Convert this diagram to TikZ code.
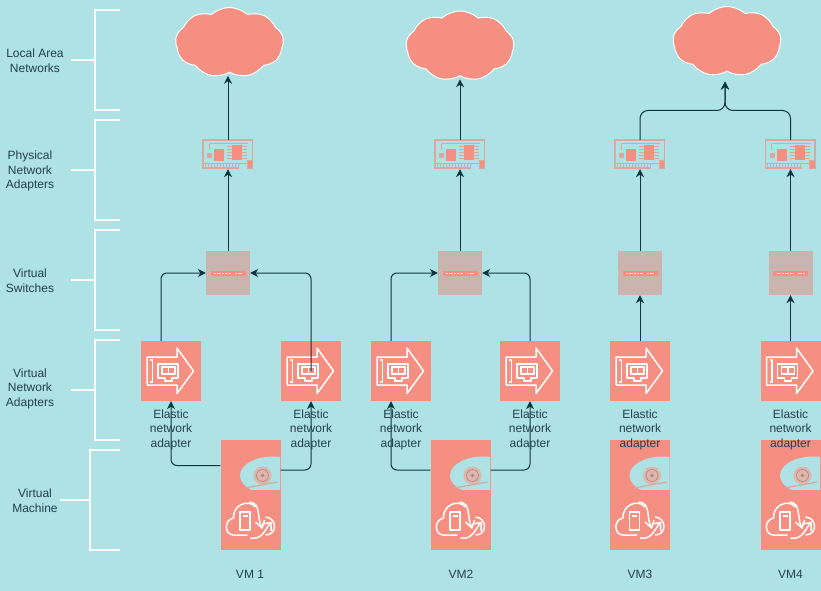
\documentclass[tikz,border=0pt]{standalone}
\usepackage{fontspec}
\setmainfont{Liberation Sans}
\usepackage{tikz}
\usetikzlibrary{arrows.meta,positioning,calc,shapes.symbols}
\definecolor{bgc}{HTML}{AEE2E4}
\definecolor{sal}{HTML}{F58F82}
\definecolor{mute}{HTML}{C9B4AF}
\definecolor{nicl}{HTML}{D8A99E}
\definecolor{ink}{HTML}{0F3540}
\definecolor{txt}{HTML}{23414A}
\tikzset{
  >={Stealth[length=8pt,width=8pt]},
  ebox/.style={fill=sal,minimum size=60pt,inner sep=0pt},
  dbox/.style={fill=sal,minimum width=60pt,minimum height=50pt,inner sep=0pt},
  swbox/.style={fill=mute,minimum size=44pt,inner sep=0pt},
  nicbox/.style={minimum width=50pt,minimum height=29pt,inner sep=0pt},
  net/.style={cloud,cloud puffs=9,cloud puff arc=85,aspect=1.55,fill=sal,draw=white,line width=1pt,inner sep=0pt,minimum width=108pt,minimum height=70pt},
  lab/.style={font=\fontsize{12}{14.6}\selectfont,text=txt,align=center,inner sep=0pt},
  arr/.style={->,draw=ink,line width=1pt,rounded corners=6pt},
  brk/.style={draw=white,line width=2pt},
  wline/.style={draw=white,line width=1.5pt,line join=round},
  pics/enaicon/.style={code={
    \draw[wline] (-24,14) -- (-24,-14) -- (6,-14) -- (6,-23) -- (22.5,0) -- (6,22.5) -- (6,14) -- (-24,14);
    \draw[wline] (-21,-11) -- (-18.5,-11) -- (-18.5,11) -- (-21,11);
    \draw[wline] (-13,-7) -- (7,-7) -- (7,7) -- (1,7) -- (1,10) -- (-6,10) -- (-6,7) -- (-13,7) -- cycle;
    \draw[wline,line width=1.2pt] (-9,-4) rectangle (4,3);
    \draw[wline,line width=1.2pt] (-2.5,-4) -- (-2.5,3);
  }},
  pics/diskicon/.style={code={
    \begin{scope}
      \clip (-30,-25) rectangle (29.5,28);
      \fill[bgc] (22.5,10.5) ellipse (33 and 19);
    \end{scope}
    \fill[nicl!85!white] (12,10.5) circle (9);
    \draw[nicl!80!black,line width=0.6pt] (12,10.5) circle (6);
    \fill[nicl!80!black] (12,10.5) circle (1.8);
    \draw[nicl,line width=1.2pt] (-6,23) -- (27,17);
  }},
  pics/vmicon/.style={code={
    \draw[wline] (-3,15) -- (-17,15) .. controls (-26,15) and (-27,0) .. (-17,-2)
      .. controls (-18,-14) and (-3,-22) .. (5,-13);
    \draw[wline] (15,-3) .. controls (27,-2) and (27,15) .. (15,15);
    \draw[wline] (-10.5,-8) rectangle (-0.5,10);
    \draw[wline,line width=1.1pt] (-8,-4) -- (-3,-4);
    \draw[wline] (-1,-18) .. controls (11,-17) and (6,-3) .. (11,7);
    \draw[wline] (5,2) -- (11.5,8) -- (14,0);
    \draw[wline] (0,18) .. controls (12,20) and (14,10) .. (20,3);
    \draw[wline] (12,4) -- (20.5,2.5) -- (20.5,11);
  }},
  pics/nicicon/.style={code={
    \draw[nicl,line width=1.4pt] (-25,-14.5) rectangle (24.5,9);
    \foreach \k in {0,...,11} \draw[nicl,line width=1pt] (-23+\k*3,9) -- (-23+\k*3,13.5);
    \draw[nicl,line width=1.2pt] (-25,9) -- (-25,13.5) -- (11,13.5);
    \fill[sal] (-14,-6) rectangle (-4,6);
    \fill[sal] (4,-9.5) rectangle (14,5);
    \foreach \k in {-8,-5,...,4} {\draw[nicl,line width=0.7pt] (-1,\k) -- (4,\k); \draw[nicl,line width=0.7pt] (14,\k) -- (19,\k);}
    \fill[nicl] (-21,-2) rectangle (-16,3);
    \fill[sal,draw=nicl] (19,6) rectangle (24.5,13.5);
    \draw[nicl,line width=0.7pt] (-19,-12) -- (-19,-5) (-18,-11.5) -- (20,-11.5);
  }},
  pics/swicon/.style={code={
    \fill[sal] (-17.5,-2.5) rectangle (17.5,2.5);
    \draw[mute!50!white,line width=0.8pt,dash pattern=on 2pt off 0.7pt] (-14,0) -- (3,0) (7,0) -- (14,0);
  }},
}
\begin{document}
\begin{tikzpicture}[x=1pt,y=-1pt]
\useasboundingbox (0,0) rectangle (821,591);
\fill[bgc] (0,0) rectangle (821,591);

% brackets on the left
\foreach \t/\xb/\xs in {10/95/71,120/95/71,230/95/71,340/95/71,450/90/60}
  \draw[brk] (120,\t) -- (\xb,\t) -- (\xb,\t+100) -- (120,\t+100) (\xs,\t+50) -- (\xb,\t+50);

% clouds
\node[net] (cloud1) at (229.5,42.5) {};
\node[net] (cloud2) at (460,46) {};
\node[net] (cloud3) at (727,41.5) {};

% physical adapters and switches
\foreach \n/\x in {1/228,2/460,3/640,4/790.5}{
  \node[nicbox] (nic\n) at (\x,154.5) {};
  \pic at (\x,154.5) {nicicon};
  \node[swbox] (sw\n) at (\x,273) {};
  \pic at (\x,273) {swicon};
}

% virtual adapters
\foreach \n/\x in {1a/171,1b/311,2a/401,2b/530,3a/640,4a/790.5}{
  \node[ebox] (ena\n) at (\x,371) {};
  \pic at (\x,371) {enaicon};
}

% VM disk and server
\foreach \n/\x in {1/250.5,2/460.5,3/640,4/790.5}{
  \node[dbox] (disk\n) at (\x,465) {};
  \pic at (\x,465) {diskicon};
  \node[ebox] (vm\n) at (\x,520) {};
  \pic at (\x,520) {vmicon};
}

% connectors
\draw[arr,shorten >=3pt] (nic1.north) -- (nic1.north |- cloud1.south);
\draw[arr,shorten >=3pt] (nic2.north) -- (nic2.north |- cloud2.south);
\coordinate (bus) at (725,110.5);
\coordinate (junc) at (725,98);
\draw[arr,rounded corners=8pt] (nic3.north) -- (nic3.north |- bus) -- (bus) -- (junc) -- (725,81.5);
\draw[arr,rounded corners=8pt] (nic4.north) -- (nic4.north |- bus) -- (bus) -- (junc) -- (725,81.5);
\foreach \n in {1,2,3,4} \draw[arr] (sw\n.north) -- (nic\n.south);
\draw[arr] ($(ena1a.north)+(-10,0)$) |- (sw1.west);
\draw[arr] (ena1b.center) |- (sw1.east);
\draw[arr] ($(ena2a.north)+(-10,0)$) |- (sw2.west);
\draw[arr] (ena2b.north) |- (sw2.east);
\draw[arr] (ena3a.north) -- (sw3.south);
\draw[arr] (ena4a.north) -- (sw4.south);
\draw[arr] ($(disk1.west)+(0,0.5)$) -| (ena1a.south);
\draw[arr] ($(disk1.east)+(0,5)$) -| (ena1b.south);
\draw[arr] ($(disk2.west)+(0,5)$) -| ($(ena2a.south)+(-10,0)$);
\draw[arr] ($(disk2.east)+(0,5)$) -| (ena2b.south);

% labels
\foreach \n/\x in {1a/171,1b/311,2a/401,2b/530,3a/640,4a/790.5}
  \node[lab] (cap\n) at (\x,429.5) {Elastic\\network\\adapter};
\node[lab] (lan) at (35,60.5) {Local Area\\Networks};
\node[lab] (pna) at (30,171) {Physical\\Network\\Adapters};
\node[lab] (vsw) at (30,280.5) {Virtual\\Switches};
\node[lab] (vna) at (30,388.5) {Virtual\\Network\\Adapters};
\node[lab] (vmc) at (35,500.5) {Virtual\\Machine};
\node[lab] (vm1l) at (250,574.5) {VM 1};
\node[lab] (vm2l) at (461,574.5) {VM2};
\node[lab] (vm3l) at (640,574.5) {VM3};
\node[lab] (vm4l) at (790.5,574.5) {VM4};
\end{tikzpicture}
\end{document}
